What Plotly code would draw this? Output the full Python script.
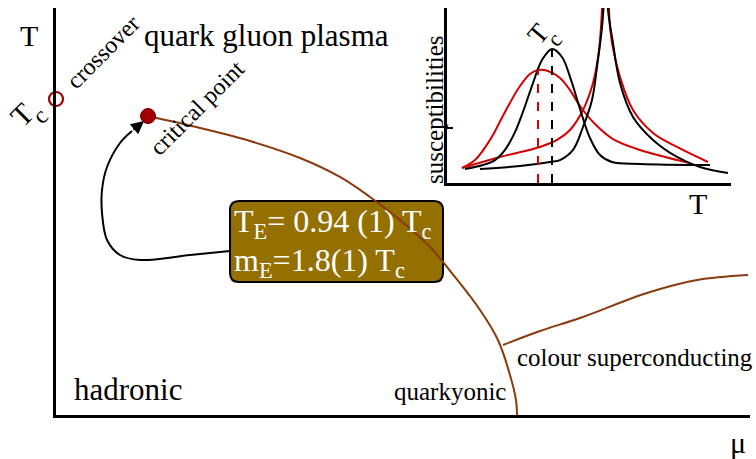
import plotly.graph_objects as go

W, H = 756, 459
SERIF = "Liberation Serif"
BROWN = "#8a3a0c"
DARKRED = "#a00000"
RED = "#d40000"
BOXFILL = "#937000"

# ---- main phase diagram (mu, T in arbitrary units 0..1) ----
crit_mu = [0.1326, 0.2075, 0.2795, 0.3516, 0.4092, 0.4524, 0.4957, 0.5389, 0.5749, 0.6110, 0.6369, 0.6542, 0.6628, 0.6643]
crit_T = [0.7346, 0.7052, 0.6732, 0.6314, 0.5848, 0.5356, 0.4791, 0.4128, 0.3391, 0.2580, 0.1843, 0.0983, 0.0369, 0.0]

csc_mu = [0.6441, 0.6974, 0.7550, 0.8516, 0.9236, 0.9971]
csc_T = [0.1720, 0.2064, 0.2383, 0.2998, 0.3317, 0.3440]

crossover_mu = [0.0]
crossover_T = [0.7764]
critpt_mu = [0.1326]
critpt_T = [0.7346]

arrow_mu = [0.2507, 0.1931, 0.1210, 0.0922, 0.0735, 0.0663, 0.0663, 0.0735, 0.0922, 0.1095]
arrow_T = [0.4029, 0.3931, 0.3808, 0.3931, 0.4300, 0.4963, 0.5528, 0.6093, 0.6683, 0.6978]
arrow_tip = (0.1268, 0.7224)

# ---- inset: susceptibilities vs T (arbitrary units 0..1) ----
bc_T = [0.0634, 0.1268, 0.1690, 0.2042, 0.2394, 0.2711, 0.3028, 0.3345, 0.3697, 0.4049, 0.4366, 0.4683, 0.5035, 0.5387, 0.5810, 0.6796, 0.9261]
bc_chi = [0.080, 0.103, 0.131, 0.189, 0.291, 0.423, 0.571, 0.703, 0.766, 0.720, 0.589, 0.423, 0.257, 0.160, 0.120, 0.109, 0.103]

rc_T = [0.0528, 0.0986, 0.1514, 0.2042, 0.2570, 0.2923, 0.3204, 0.3556, 0.3979, 0.4331, 0.4683, 0.5211, 0.5845, 0.6796, 0.8556]
rc_chi = [0.086, 0.131, 0.246, 0.406, 0.554, 0.623, 0.646, 0.640, 0.600, 0.531, 0.440, 0.337, 0.251, 0.189, 0.114]

bdl_T = [0.1162, 0.2570, 0.3627, 0.3979, 0.4437, 0.4789, 0.5106, 0.5282, 0.5458, 0.5528, 0.5563]
bdl_chi = [0.080, 0.097, 0.120, 0.131, 0.189, 0.320, 0.474, 0.663, 0.891, 1.046, 1.15]
bdr_T = [0.5634, 0.5669, 0.5845, 0.6092, 0.6549, 0.7254, 0.8099, 0.8908, 0.9894]
bdr_chi = [1.15, 0.989, 0.800, 0.571, 0.377, 0.246, 0.149, 0.091, 0.057]

rdl_T = [0.0528, 0.1866, 0.3275, 0.3873, 0.4331, 0.4789, 0.5141, 0.5352, 0.5458, 0.5493]
rdl_chi = [0.086, 0.149, 0.206, 0.246, 0.303, 0.417, 0.571, 0.760, 0.989, 1.103]
rdr_T = [0.5739, 0.5704, 0.5810, 0.6092, 0.6549, 0.7254, 0.8099, 0.9190]
rdr_chi = [1.103, 0.989, 0.800, 0.606, 0.417, 0.286, 0.206, 0.120]

tc_red_T = [0.3204, 0.3204]
tc_red_chi = [0.0, 0.646]
tc_black_T = [0.3697, 0.3697]
tc_black_chi = [0.0, 0.766]

fig = go.Figure()

# main traces
fig.add_trace(go.Scatter(x=arrow_mu, y=arrow_T, mode="lines",
                         line=dict(color="black", width=2, shape="spline", smoothing=1.0),
                         xaxis="x", yaxis="y", hoverinfo="skip"))
fig.add_trace(go.Scatter(x=crit_mu, y=crit_T, mode="lines",
                         line=dict(color=BROWN, width=2, shape="spline", smoothing=1.0),
                         xaxis="x", yaxis="y", hoverinfo="skip"))
fig.add_trace(go.Scatter(x=csc_mu, y=csc_T, mode="lines",
                         line=dict(color=BROWN, width=2, shape="spline", smoothing=1.0),
                         xaxis="x", yaxis="y", hoverinfo="skip"))
fig.add_trace(go.Scatter(x=crossover_mu, y=crossover_T, mode="markers", cliponaxis=False,
                         marker=dict(symbol="circle-open", size=14, color=DARKRED, line=dict(width=2.2, color=DARKRED)),
                         xaxis="x", yaxis="y", hoverinfo="skip"))
fig.add_trace(go.Scatter(x=critpt_mu, y=critpt_T, mode="markers", cliponaxis=False,
                         marker=dict(symbol="circle", size=15, color=DARKRED, line=dict(width=1, color="#7a0000")),
                         xaxis="x", yaxis="y", hoverinfo="skip"))

# inset traces
for xs, ys, col in [(rc_T, rc_chi, RED), (rdl_T, rdl_chi, RED), (rdr_T, rdr_chi, RED),
                    (bc_T, bc_chi, "black"), (bdl_T, bdl_chi, "black"), (bdr_T, bdr_chi, "black")]:
    fig.add_trace(go.Scatter(x=xs, y=ys, mode="lines",
                             line=dict(color=col, width=2, shape="spline", smoothing=1.0),
                             xaxis="x2", yaxis="y2", hoverinfo="skip"))
fig.add_trace(go.Scatter(x=tc_red_T, y=tc_red_chi, mode="lines",
                         line=dict(color=RED, width=2, dash="dash"),
                         xaxis="x2", yaxis="y2", hoverinfo="skip"))
fig.add_trace(go.Scatter(x=tc_black_T, y=tc_black_chi, mode="lines",
                         line=dict(color="black", width=2, dash="dash"),
                         xaxis="x2", yaxis="y2", hoverinfo="skip"))


def px(x):
    return x / W


def py(y):
    return 1 - y / H


# rounded box (paper coords)
bx0, bx1, by0, by1 = px(230), px(443), py(282), py(201)
rx, ry = 9 / W, 9 / H
box_path = (f"M {bx0+rx},{by1} L {bx1-rx},{by1} Q {bx1},{by1} {bx1},{by1-ry} "
            f"L {bx1},{by0+ry} Q {bx1},{by0} {bx1-rx},{by0} L {bx0+rx},{by0} "
            f"Q {bx0},{by0} {bx0},{by0+ry} L {bx0},{by1-ry} Q {bx0},{by1} {bx0+rx},{by1} Z")

fig.update_layout(
    width=W, height=H,
    margin=dict(l=0, r=0, t=0, b=0),
    paper_bgcolor="white", plot_bgcolor="rgba(0,0,0,0)",
    showlegend=False,
    xaxis=dict(domain=[px(56), px(750)], range=[0, 1], showgrid=False, zeroline=False,
               showticklabels=False, ticks="", showline=True, linecolor="black", linewidth=3,
               anchor="y", fixedrange=True),
    yaxis=dict(domain=[py(415), py(8)], range=[0, 1], showgrid=False, zeroline=False,
               showticklabels=False, ticks="", showline=True, linecolor="black", linewidth=3,
               anchor="x", fixedrange=True),
    xaxis2=dict(domain=[px(447), px(731)], range=[0, 1], showgrid=False, zeroline=False,
                showticklabels=False, ticks="", showline=True, linecolor="black", linewidth=3,
                anchor="y2", fixedrange=True),
    yaxis2=dict(domain=[py(183), py(8)], range=[0, 1], showgrid=False, zeroline=False,
                showticklabels=False, ticks="inside", tickvals=[0.314], ticklen=6, tickwidth=2,
                tickcolor="black", showline=True, linecolor="black", linewidth=3,
                anchor="x2", fixedrange=True),
    shapes=[dict(type="path", path=box_path, xref="paper", yref="paper",
                 fillcolor=BOXFILL, line=dict(color="black", width=2), layer="below")],
)

fig.add_annotation(x=arrow_tip[0], y=arrow_tip[1], ax=arrow_mu[-1], ay=arrow_T[-1],
                   xref="x", yref="y", axref="x", ayref="y", text="", showarrow=True,
                   arrowhead=2, arrowsize=1.3, arrowwidth=2, arrowcolor="black")


def label(text, x, y, size, angle=0, color="black", anchor="center"):
    fig.add_annotation(x=px(x), y=py(y), xref="paper", yref="paper", text=text,
                       showarrow=False, textangle=angle, xanchor=anchor, yanchor="middle",
                       font=dict(family=SERIF, size=size, color=color))


label("T", 29, 35, 30)
label("quark gluon plasma", 266, 36, 31)
label("crossover", 103, 52, 24, -45)
label("T", 22, 115, 30, -45)
label("c", 40, 116, 24, -45)
label("critical point", 197, 108, 24, -45)
label("hadronic", 128, 389, 31)
label("quarkyonic", 450, 391, 25)
label("colour superconducting", 635, 357, 25)
label("μ", 738, 442, 30)
label("susceptibilities", 434, 110, 25, -90)
label("T", 698, 203, 30)
label("T", 538, 34, 27, -50)
label("c", 554, 39, 22, -50)
label("T<sub>E</sub>= 0.94 (1) T<sub>c</sub>", 232, 223, 32, 0, "white", "left")
label("m<sub>E</sub>=1.8(1) T<sub>c</sub>", 232, 262, 32, 0, "white", "left")

fig.write_html("out.html")
